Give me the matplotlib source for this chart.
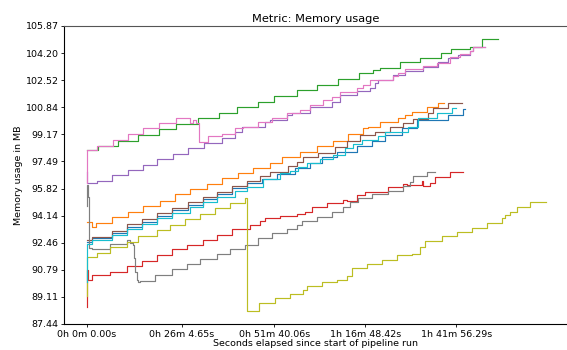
import matplotlib
matplotlib.use("Agg")
import matplotlib.pyplot as plt

plt.rcParams['font.family'] = ['DejaVu Sans']
plt.rcParams['font.size'] = 6.8

title = "Metric: Memory usage"
xlabel = "Seconds elapsed since start of pipeline run"
ylabel = "Memory usage in MB"

ytick_values = [87.44, 89.11, 90.79, 92.46, 94.14, 95.82, 97.49, 99.17, 100.84, 102.52, 104.20, 105.87]
ytick_labels = ["87.44", "89.11", "90.79", "92.46", "94.14", "95.82", "97.49", "99.17",
                "100.84", "102.52", "104.20", "105.87"]
xtick_seconds = [0, 1564.65, 3100.06, 4608.42, 6116.29]
xtick_labels = ["0h 0m 0.00s", "0h 26m 4.65s", "0h 51m 40.06s", "1h 16m 48.42s", "1h 41m 56.29s"]

t_blue = [0, 78, 409, 657, 906, 1154, 1402, 1677, 1925, 2147, 2396, 2644, 2892, 3141, 3443, 3692,
          3886, 4134, 4465, 4713, 4934, 5210, 5458, 5982, 6230, 6258]
mb_blue = [92.53, 92.74, 93.09, 93.42, 93.77, 94.11, 94.46, 94.80, 95.15, 95.48, 95.83, 96.14, 96.39,
           96.72, 97.07, 97.42, 97.75, 98.10, 98.45, 98.73, 99.13, 99.54, 100.06, 100.37, 100.72, 100.72]

t_orange = [0, 78, 149, 409, 684, 932, 1209, 1457, 1705, 1982, 2230, 2505, 2753, 3030, 3223, 3526,
            3803, 4078, 4326, 4574, 4657, 4851, 5154, 5265, 5376, 5624, 5816, 5910]
mb_orange = [93.77, 93.42, 93.71, 94.06, 94.38, 94.72, 95.07, 95.45, 95.76, 96.10, 96.44, 96.78, 97.09,
             97.42, 97.75, 98.10, 98.45, 98.78, 99.19, 99.54, 99.64, 99.92, 100.16, 100.37, 100.57,
             100.84, 101.09, 101.09]

t_green = [0, 187, 518, 849, 1192, 1469, 1843, 2185, 2488, 2836, 3096, 3472, 3813, 4161, 4508, 4735,
           4851, 5182, 5513, 5861, 6026, 6341, 6535, 6810]
mb_green = [98.20, 98.45, 98.78, 99.15, 99.48, 99.81, 100.16, 100.52, 100.88, 101.19, 101.54, 101.91,
            102.22, 102.59, 102.95, 103.15, 103.25, 103.63, 103.91, 104.22, 104.43, 104.59, 105.05, 105.05]

t_red = [0, 8, 21, 78, 381, 657, 906, 1154, 1402, 1651, 1925, 2147, 2396, 2699, 2864, 2947, 3195, 3472,
         3609, 3720, 3968, 4243, 4300, 4465, 4602, 4988, 5237, 5293, 5541, 5568, 5679, 5761, 6010, 6230]
mb_red = [88.51, 90.78, 90.16, 90.47, 90.68, 91.03, 91.36, 91.71, 92.06, 92.33, 92.64, 92.95, 93.30,
          93.56, 93.83, 93.97, 94.12, 94.24, 94.39, 94.66, 94.91, 95.11, 95.02, 95.42, 95.62, 95.90,
          96.10, 96.04, 96.30, 95.98, 96.18, 96.55, 96.81, 96.81]

t_purple = [0, 8, 160, 409, 684, 932, 1154, 1429, 1677, 1937, 2230, 2450, 2561, 2947, 3030, 3306, 3389,
            3692, 4051, 4189, 4465, 4685, 4768, 4823, 5071, 5265, 5568, 5816, 5982, 6147, 6341, 6396, 6589]
mb_purple = [96.84, 96.16, 96.29, 96.66, 96.97, 97.27, 97.63, 97.97, 98.31, 98.65, 98.96, 99.33, 99.64,
             99.96, 100.06, 100.37, 100.47, 100.84, 101.19, 101.60, 101.87, 102.05, 102.33, 102.53,
             102.84, 103.11, 103.35, 103.66, 103.87, 104.08, 104.32, 104.55, 104.55]

t_brown = [0, 78, 409, 657, 906, 1154, 1402, 1677, 1925, 2147, 2396, 2644, 2864, 3030, 3333, 3472, 3581,
           3829, 4106, 4300, 4520, 4768, 5016, 5237, 5402, 5650, 5733, 5982, 6204]
mb_brown = [92.64, 92.85, 93.22, 93.60, 93.94, 94.28, 94.63, 94.96, 95.30, 95.62, 95.98, 96.29, 96.59,
            96.84, 97.21, 97.48, 97.75, 98.04, 98.41, 98.78, 99.13, 99.33, 99.61, 99.85, 100.10,
            100.47, 100.80, 101.09, 101.09]

t_pink = [0, 8, 171, 436, 684, 932, 1192, 1469, 1705, 1755, 1805, 1854, 2008, 2230, 2450, 2583, 2836,
          3058, 3306, 3526, 3692, 3912, 4051, 4189, 4465, 4574, 4685, 5071, 5149, 5265, 5568, 5790,
          6010, 6175, 6341, 6391, 6589]
mb_pink = [96.16, 98.20, 98.47, 98.82, 99.17, 99.54, 99.85, 100.16, 99.90, 100.06, 99.87, 98.72, 99.07,
           99.19, 99.54, 99.64, 99.95, 100.16, 100.51, 100.68, 100.99, 101.29, 101.46, 101.81, 102.02,
           102.22, 102.53, 102.75, 102.95, 103.19, 103.40, 103.60, 103.93, 104.12, 104.32, 104.59, 104.59]

t_gray = [0, 5, 21, 33, 78, 381, 657, 712, 762, 778, 795, 823, 844, 877, 1126, 1402, 1651, 1871, 2147,
          2367, 2616, 2836, 3058, 3306, 3472, 3555, 3803, 4051, 4243, 4354, 4492, 4713, 4988, 5237,
          5348, 5402, 5624, 5761]
mb_gray = [94.74, 96.04, 95.30, 92.14, 92.06, 92.39, 92.64, 92.45, 92.33, 91.52, 90.68, 90.16, 90.04,
           90.10, 90.47, 90.82, 91.15, 91.44, 91.77, 92.06, 92.33, 92.74, 93.05, 93.32, 93.56, 93.81,
           94.08, 94.39, 94.70, 95.01, 95.22, 95.46, 95.69, 95.98, 96.24, 96.59, 96.86, 96.86]

t_olive = [0, 5, 160, 381, 657, 849, 1154, 1374, 1622, 1871, 2119, 2367, 2616, 2649, 2848, 3113, 3361,
           3581, 3637, 3886, 4134, 4300, 4383, 4631, 4879, 5127, 5375, 5513, 5596, 5872, 6121, 6369,
           6617, 6866, 6920, 7003, 7114, 7334, 7594]
mb_olive = [89.17, 91.59, 91.81, 92.20, 92.53, 92.88, 93.25, 93.56, 93.92, 94.24, 94.60, 94.91, 95.22,
            88.26, 88.72, 89.03, 89.28, 89.54, 89.79, 90.06, 90.16, 90.41, 90.89, 91.15, 91.40, 91.69,
            91.77, 92.22, 92.59, 92.88, 93.15, 93.40, 93.67, 93.98, 94.18, 94.39, 94.66, 94.96, 94.96]

t_cyan = [0, 8, 78, 409, 657, 906, 1154, 1402, 1705, 1925, 2147, 2450, 2644, 2914, 3195, 3361, 3498,
          3637, 3857, 4078, 4271, 4409, 4548, 4823, 4934, 5320, 5485, 5790, 6038, 6109]
mb_cyan = [90.04, 92.36, 92.64, 92.95, 93.29, 93.63, 93.97, 94.32, 94.68, 95.01, 95.31, 95.69, 95.91,
           96.38, 96.76, 96.92, 97.17, 97.38, 97.63, 97.89, 98.31, 98.57, 98.82, 99.07, 99.33, 99.64,
           100.16, 100.47, 100.78, 100.78]

series = [
    (t_blue, mb_blue, "tab:blue"),
    (t_orange, mb_orange, "tab:orange"),
    (t_green, mb_green, "tab:green"),
    (t_red, mb_red, "tab:red"),
    (t_purple, mb_purple, "tab:purple"),
    (t_brown, mb_brown, "tab:brown"),
    (t_pink, mb_pink, "tab:pink"),
    (t_gray, mb_gray, "tab:gray"),
    (t_olive, mb_olive, "tab:olive"),
    (t_cyan, mb_cyan, "tab:cyan"),
]

fig = plt.figure(figsize=(5.67, 3.5), dpi=100)
ax = fig.add_axes([64 / 567, 26 / 350, 1 - 64 / 567, 298 / 350])

for t, mb, c in series:
    ax.plot(t, mb, drawstyle="steps-post", color=c, linewidth=0.85)

ax.set_xlim(-381, 7947)
ax.set_ylim(87.44, 105.87)
ax.set_yticks(ytick_values, ytick_labels)
ax.set_xticks(xtick_seconds, xtick_labels)
ax.spines['right'].set_visible(False)
for s in ax.spines.values():
    s.set_linewidth(0.8)
ax.spines['top'].set_color('#555555')
ax.tick_params(length=2.5, width=0.6, pad=1.5)
ax.set_title(title, pad=3)
ax.set_xlabel(xlabel, labelpad=0.5)
ax.set_ylabel(ylabel, labelpad=2)

fig.savefig("out.png", dpi=100)
